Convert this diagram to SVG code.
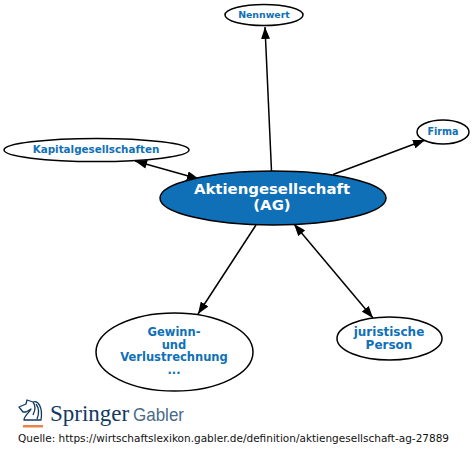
<svg xmlns="http://www.w3.org/2000/svg" width="474" height="457" viewBox="0 0 474 457">
<style>
text{font-family:"DejaVu Sans",sans-serif;text-anchor:middle}
.n{fill:#fff;stroke:#000;stroke-width:1.5}
.l{font-weight:700;fill:#0f70b7}
.c{stroke:#000;stroke-width:1.5;fill:none;marker-end:url(#a)}
.b{marker-start:url(#s)}
</style>
<defs>
<marker id="a" markerUnits="userSpaceOnUse" markerWidth="13" markerHeight="9" refX="12" refY="4.500" orient="auto"><path d="M0 0L12 4.500L0 9z"/></marker>
<marker id="s" markerUnits="userSpaceOnUse" markerWidth="13" markerHeight="9" refX="0" refY="4.500" orient="auto"><path d="M12 0L0 4.500L12 9z"/></marker>
</defs>
<rect width="474" height="457" fill="#fff"/>
<g id="connectors">
<path class="c" d="M271.500 171L265 27"/>
<path class="c" d="M333 174.500L425 140"/>
<path class="c b" d="M135 161L199 179"/>
<path class="c" d="M256 225L198 314"/>
<path class="c b" d="M294 224L373 318"/>
</g>
<g id="node-ag"><ellipse cx="273" cy="198" rx="113" ry="27" fill="#0f70b7" stroke="#000" stroke-width="1.500"/><text font-size="14.900" font-weight="700" fill="#fff"><tspan x="272" y="194">Aktiengesellschaft</tspan><tspan x="272" y="210">(AG)</tspan></text></g>
<g id="node-nennwert"><ellipse class="n" cx="264" cy="15" rx="39" ry="10.500"/><text class="l" x="264" y="18" font-size="9.400">Nennwert</text></g>
<g id="node-firma"><ellipse class="n" cx="443" cy="132" rx="26" ry="12"/><text class="l" x="443" y="134.500" font-size="9.600">Firma</text></g>
<g id="node-kapital"><ellipse class="n" cx="96.500" cy="150" rx="92.500" ry="11.500"/><text class="l" x="96" y="153" font-size="10.350">Kapitalgesellschaften</text></g>
<g id="node-gewinn"><ellipse class="n" cx="174.500" cy="352" rx="78.500" ry="39"/><text class="l" font-size="11.500"><tspan x="174" y="336">Gewinn-</tspan><tspan x="174" y="348.500">und</tspan><tspan x="174" y="361">Verlustrechnung</tspan><tspan x="174" y="374">...</tspan></text></g>
<g id="node-juristisch"><ellipse class="n" cx="389.500" cy="338.500" rx="52.500" ry="21.500"/><text class="l" font-size="12"><tspan x="389" y="336">juristische</tspan><tspan x="389" y="348.500">Person</tspan></text></g>
<g id="logo">
<path d="M27 400L33 402C38 400 43 407 41 420L24 420C24 416 29 413 31 409L26 412L23 412L19 407L26 404z M33 402C36 406 35 411 33 415M36 404C39 408 39 414 37 419" fill="none" stroke="#12395f" stroke-width="1.300" stroke-linejoin="round"/>
<rect x="23" y="425" width="20" height="2.500" fill="#e8854f"/>
<text x="50" y="421" font-size="23" style="font-family:'Liberation Serif',serif;text-anchor:start" fill="#12395f">Springer</text>
<text x="133" y="421" font-size="19" textLength="51" lengthAdjust="spacingAndGlyphs" style="font-family:'Liberation Sans',sans-serif;text-anchor:start" fill="#4a6a86">Gabler</text>
</g>
<text x="18" y="441.500" font-size="10.500" fill="#111" style="text-anchor:start">Quelle: https://wirtschaftslexikon.gabler.de/definition/aktiengesellschaft-ag-27889</text>
</svg>
